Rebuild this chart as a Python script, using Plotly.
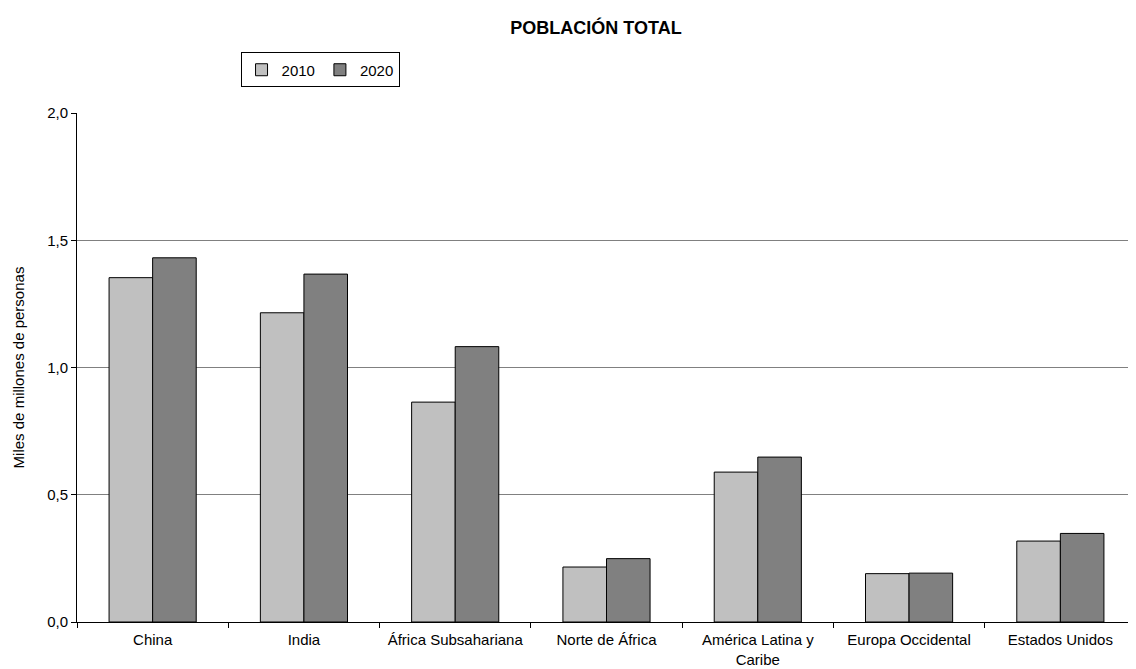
import plotly.graph_objects as go

categories = ["China", "India", "África Subsahariana", "Norte de África",
              "América Latina y<br>Caribe", "Europa Occidental", "Estados Unidos"]
series_names = ["2010", "2020"]
values_2010 = [1.353, 1.215, 0.864, 0.216, 0.589, 0.190, 0.318]
values_2020 = [1.431, 1.367, 1.082, 0.249, 0.648, 0.192, 0.348]
colors = ["#c0c0c0", "#808080"]

fig = go.Figure()
for name, vals, col in zip(series_names, [values_2010, values_2020], colors):
    fig.add_trace(go.Bar(x=categories, y=vals, name=name,
                         marker=dict(color=col, line=dict(color="#000000", width=1))))

# page body has an 8px margin, so figure is offset by (8, 8)
fig.update_layout(
    width=1136, height=669,
    paper_bgcolor="white", plot_bgcolor="white",
    font=dict(family="Liberation Sans, Arial, sans-serif", size=15, color="#000000"),
    separators=",.",
    margin=dict(l=69, r=8, t=105, b=55),
    barmode="group", bargap=0.424, bargroupgap=0,
    title=dict(text="<b>POBLACIÓN TOTAL</b>", xref="container", x=0.5176, xanchor="center",
               yref="container", y=0.970, yanchor="middle", font=dict(size=18)),
    legend=dict(orientation="h", x=0.2295, y=1.0845, xanchor="center", yanchor="middle",
                bordercolor="#000000", borderwidth=1, bgcolor="white",
                font=dict(size=15), itemwidth=30, tracegroupgap=0),
    showlegend=True,
)
fig.update_xaxes(showline=True, linecolor="#000000", linewidth=1,
                 ticks="outside", tickson="boundaries", ticklen=5, tickcolor="#000000",
                 showgrid=False, tickfont=dict(size=15), ticklabelstandoff=4)
fig.update_yaxes(range=[0, 2.0], dtick=0.5, tickformat=".1f",
                 showline=True, linecolor="#000000", linewidth=1,
                 ticks="outside", ticklen=5, tickcolor="#000000",
                 showgrid=True, gridcolor="#808080", gridwidth=1,
                 zeroline=False, tickfont=dict(size=15),
                 title=dict(text="Miles de millones de personas", font=dict(size=15), standoff=18))

fig.write_html("out.html")
